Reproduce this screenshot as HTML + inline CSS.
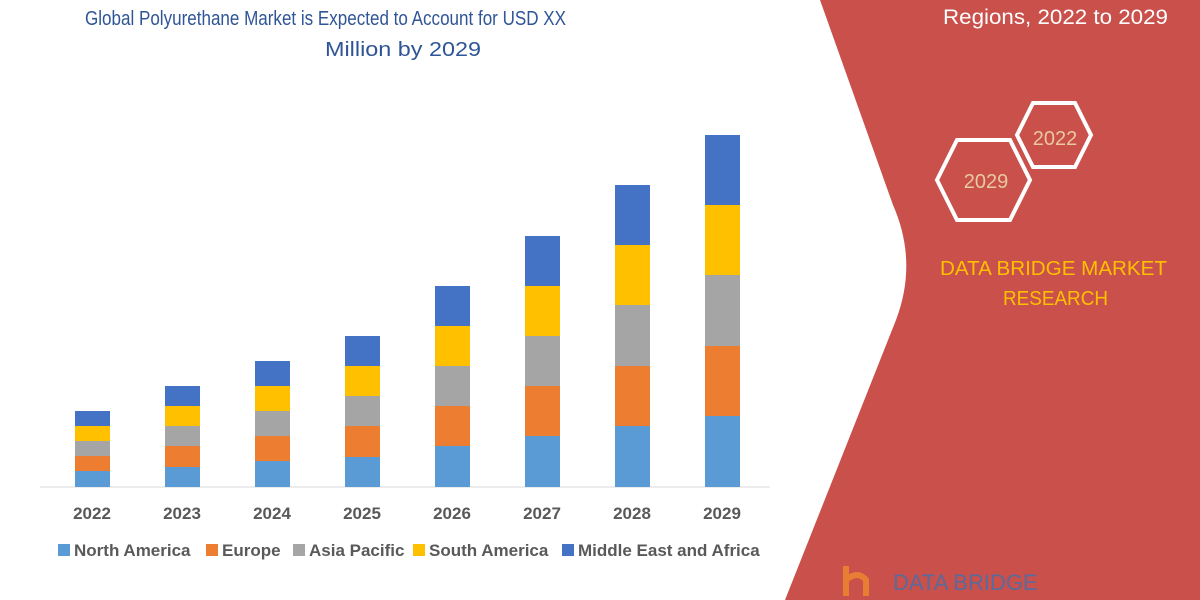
<!DOCTYPE html>
<html><head><style>
body{margin:0;width:1200px;height:600px;overflow:hidden;background:#fff;font-family:"Liberation Sans",sans-serif}
</style></head><body>
<svg width="1200" height="600" xmlns="http://www.w3.org/2000/svg" style="position:absolute;left:0;top:0">
<path d="M820,0 L893,205 Q918,262 896,320 L785,600 L1200,600 L1200,0 Z" fill="#c9504b"/>
<g font-family="Liberation Sans, sans-serif">
<text x="943" y="24" fill="#fff" font-size="21" textLength="225" lengthAdjust="spacingAndGlyphs">Regions, 2022 to 2029</text>
<text x="85" y="25" fill="#2f5597" font-size="20" textLength="481" lengthAdjust="spacingAndGlyphs">Global Polyurethane Market is Expected to Account for USD XX</text>
<text x="325" y="56" fill="#2f5597" font-size="20" textLength="156" lengthAdjust="spacingAndGlyphs">Million by 2029</text>
<polygon points="1033,103 1075,103 1091,135 1075,167 1033,167 1017,135" fill="none" stroke="#fff" stroke-width="4"/>
<polygon points="957,140 1010,140 1030,180 1010,220 957,220 937,180" fill="none" stroke="#fff" stroke-width="4"/>
<text x="1055" y="145" fill="#e8c9a0" font-size="20" text-anchor="middle">2022</text>
<text x="986" y="188" fill="#e8c9a0" font-size="20" text-anchor="middle">2029</text>
<text x="940" y="275" fill="#ffc000" font-size="20" textLength="227" lengthAdjust="spacingAndGlyphs">DATA BRIDGE MARKET</text>
<text x="1003" y="305" fill="#ffc000" font-size="20" textLength="105" lengthAdjust="spacingAndGlyphs">RESEARCH</text>
<text x="893" y="590" fill="#5b6a9a" font-size="22">DATA BRIDGE</text>
<path d="M846,566 v30 M846,580 q12,-10 20,0 v16" stroke="#e87d34" stroke-width="6" fill="none"/>
<line x1="40" y1="487" x2="770" y2="487" stroke="#d9d9d9" stroke-width="1"/>
</g>
<g font-family="Liberation Sans, sans-serif" font-weight="bold" font-size="17" fill="#595959" text-anchor="middle">
<text x="92" y="519">2022</text><text x="182" y="519">2023</text><text x="272" y="519">2024</text><text x="362" y="519">2025</text>
<text x="452" y="519">2026</text><text x="542" y="519">2027</text><text x="632" y="519">2028</text><text x="722" y="519">2029</text>
</g>
<g font-family="Liberation Sans, sans-serif" font-weight="bold" font-size="17" fill="#595959">
<rect x="58" y="544" width="12" height="12" fill="#5b9bd5"/><text x="74" y="556">North America</text>
<rect x="206" y="544" width="12" height="12" fill="#ed7d31"/><text x="222" y="556">Europe</text>
<rect x="293" y="544" width="12" height="12" fill="#a5a5a5"/><text x="309" y="556">Asia Pacific</text>
<rect x="413" y="544" width="12" height="12" fill="#ffc000"/><text x="429" y="556">South America</text>
<rect x="562" y="544" width="12" height="12" fill="#4472c4"/><text x="578" y="556">Middle East and Africa</text>
</g>
<g>
<rect x="75" y="471" width="35" height="16" fill="#5b9bd5"/><rect x="75" y="456" width="35" height="15" fill="#ed7d31"/><rect x="75" y="441" width="35" height="15" fill="#a5a5a5"/><rect x="75" y="426" width="35" height="15" fill="#ffc000"/><rect x="75" y="411" width="35" height="15" fill="#4472c4"/>
<rect x="165" y="467" width="35" height="20" fill="#5b9bd5"/><rect x="165" y="446" width="35" height="21" fill="#ed7d31"/><rect x="165" y="426" width="35" height="20" fill="#a5a5a5"/><rect x="165" y="406" width="35" height="20" fill="#ffc000"/><rect x="165" y="386" width="35" height="20" fill="#4472c4"/>
<rect x="255" y="461" width="35" height="26" fill="#5b9bd5"/><rect x="255" y="436" width="35" height="25" fill="#ed7d31"/><rect x="255" y="411" width="35" height="25" fill="#a5a5a5"/><rect x="255" y="386" width="35" height="25" fill="#ffc000"/><rect x="255" y="361" width="35" height="25" fill="#4472c4"/>
<rect x="345" y="457" width="35" height="30" fill="#5b9bd5"/><rect x="345" y="426" width="35" height="31" fill="#ed7d31"/><rect x="345" y="396" width="35" height="30" fill="#a5a5a5"/><rect x="345" y="366" width="35" height="30" fill="#ffc000"/><rect x="345" y="336" width="35" height="30" fill="#4472c4"/>
<rect x="435" y="446" width="35" height="41" fill="#5b9bd5"/><rect x="435" y="406" width="35" height="40" fill="#ed7d31"/><rect x="435" y="366" width="35" height="40" fill="#a5a5a5"/><rect x="435" y="326" width="35" height="40" fill="#ffc000"/><rect x="435" y="286" width="35" height="40" fill="#4472c4"/>
<rect x="525" y="436" width="35" height="51" fill="#5b9bd5"/><rect x="525" y="386" width="35" height="50" fill="#ed7d31"/><rect x="525" y="336" width="35" height="50" fill="#a5a5a5"/><rect x="525" y="286" width="35" height="50" fill="#ffc000"/><rect x="525" y="236" width="35" height="50" fill="#4472c4"/>
<rect x="615" y="426" width="35" height="61" fill="#5b9bd5"/><rect x="615" y="366" width="35" height="60" fill="#ed7d31"/><rect x="615" y="305" width="35" height="61" fill="#a5a5a5"/><rect x="615" y="245" width="35" height="60" fill="#ffc000"/><rect x="615" y="185" width="35" height="60" fill="#4472c4"/>
<rect x="705" y="416" width="35" height="71" fill="#5b9bd5"/><rect x="705" y="346" width="35" height="70" fill="#ed7d31"/><rect x="705" y="275" width="35" height="71" fill="#a5a5a5"/><rect x="705" y="205" width="35" height="70" fill="#ffc000"/><rect x="705" y="135" width="35" height="70" fill="#4472c4"/>
</g>
</svg>
</body></html>
